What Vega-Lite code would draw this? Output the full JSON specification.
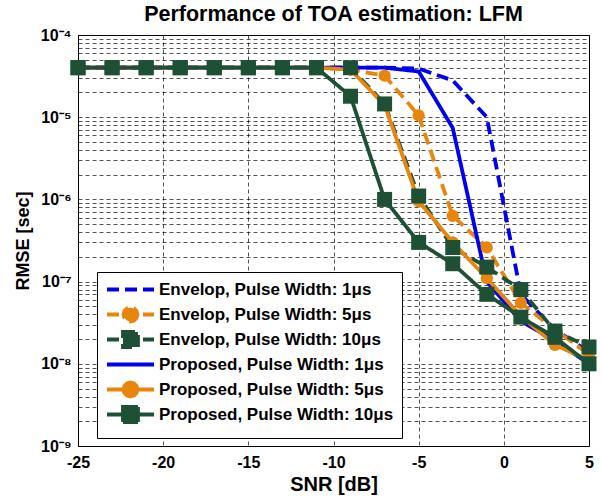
{
  "$schema": "https://vega.github.io/schema/vega-lite/v6.json",
  "width": 511,
  "height": 411,
  "autosize": {"type": "none"},
  "padding": {"left": 78, "top": 35, "right": 13, "bottom": 52},
  "background": "white",
  "title": {"text": "Performance of TOA estimation: LFM", "fontSize": 21.5, "fontWeight": "bold", "font": "Liberation Sans", "color": "black", "offset": 2, "anchor": "middle"},
  "config": {
    "font": "Liberation Sans",
    "view": {"stroke": "black", "strokeWidth": 1},
    "axis": {"labelFont": "Liberation Sans", "labelFontWeight": "bold", "labelFontSize": 16, "labelColor": "black", "titleFont": "Liberation Sans", "titleFontWeight": "bold", "titleFontSize": 19, "titleColor": "black", "domainColor": "black", "gridColor": "#000000", "gridDash": [4, 3], "gridWidth": 0.8, "gridOpacity": 0.85, "ticks": false, "labelFlush": false, "labelOverlap": false}
  },
  "data": {"values": [
    {"series": "Envelop, Pulse Width: 1μs", "snr": -25, "rmse": 4e-5},
    {"series": "Envelop, Pulse Width: 1μs", "snr": -23, "rmse": 4e-5},
    {"series": "Envelop, Pulse Width: 1μs", "snr": -21, "rmse": 4e-5},
    {"series": "Envelop, Pulse Width: 1μs", "snr": -19, "rmse": 4e-5},
    {"series": "Envelop, Pulse Width: 1μs", "snr": -17, "rmse": 4e-5},
    {"series": "Envelop, Pulse Width: 1μs", "snr": -15, "rmse": 4e-5},
    {"series": "Envelop, Pulse Width: 1μs", "snr": -13, "rmse": 4e-5},
    {"series": "Envelop, Pulse Width: 1μs", "snr": -11, "rmse": 4e-5},
    {"series": "Envelop, Pulse Width: 1μs", "snr": -9, "rmse": 4e-5},
    {"series": "Envelop, Pulse Width: 1μs", "snr": -7, "rmse": 4e-5},
    {"series": "Envelop, Pulse Width: 1μs", "snr": -5, "rmse": 3.9e-5},
    {"series": "Envelop, Pulse Width: 1μs", "snr": -3, "rmse": 2.8e-5},
    {"series": "Envelop, Pulse Width: 1μs", "snr": -1, "rmse": 1e-5},
    {"series": "Envelop, Pulse Width: 1μs", "snr": 1, "rmse": 7e-8},
    {"series": "Envelop, Pulse Width: 1μs", "snr": 3, "rmse": 2.6e-8},
    {"series": "Envelop, Pulse Width: 1μs", "snr": 5, "rmse": 1.4e-8},
    {"series": "Envelop, Pulse Width: 5μs", "snr": -25, "rmse": 4e-5},
    {"series": "Envelop, Pulse Width: 5μs", "snr": -23, "rmse": 4e-5},
    {"series": "Envelop, Pulse Width: 5μs", "snr": -21, "rmse": 4e-5},
    {"series": "Envelop, Pulse Width: 5μs", "snr": -19, "rmse": 4e-5},
    {"series": "Envelop, Pulse Width: 5μs", "snr": -17, "rmse": 4e-5},
    {"series": "Envelop, Pulse Width: 5μs", "snr": -15, "rmse": 4e-5},
    {"series": "Envelop, Pulse Width: 5μs", "snr": -13, "rmse": 4e-5},
    {"series": "Envelop, Pulse Width: 5μs", "snr": -11, "rmse": 4e-5},
    {"series": "Envelop, Pulse Width: 5μs", "snr": -9, "rmse": 3.8e-5},
    {"series": "Envelop, Pulse Width: 5μs", "snr": -7, "rmse": 3.2e-5},
    {"series": "Envelop, Pulse Width: 5μs", "snr": -5, "rmse": 1.05e-5},
    {"series": "Envelop, Pulse Width: 5μs", "snr": -3, "rmse": 6.3e-7},
    {"series": "Envelop, Pulse Width: 5μs", "snr": -1, "rmse": 2.6e-7},
    {"series": "Envelop, Pulse Width: 5μs", "snr": 1, "rmse": 5.5e-8},
    {"series": "Envelop, Pulse Width: 5μs", "snr": 3, "rmse": 2.6e-8},
    {"series": "Envelop, Pulse Width: 5μs", "snr": 5, "rmse": 1.3e-8},
    {"series": "Envelop, Pulse Width: 10μs", "snr": -25, "rmse": 4e-5},
    {"series": "Envelop, Pulse Width: 10μs", "snr": -23, "rmse": 4e-5},
    {"series": "Envelop, Pulse Width: 10μs", "snr": -21, "rmse": 4e-5},
    {"series": "Envelop, Pulse Width: 10μs", "snr": -19, "rmse": 4e-5},
    {"series": "Envelop, Pulse Width: 10μs", "snr": -17, "rmse": 4e-5},
    {"series": "Envelop, Pulse Width: 10μs", "snr": -15, "rmse": 4e-5},
    {"series": "Envelop, Pulse Width: 10μs", "snr": -13, "rmse": 4e-5},
    {"series": "Envelop, Pulse Width: 10μs", "snr": -11, "rmse": 4e-5},
    {"series": "Envelop, Pulse Width: 10μs", "snr": -9, "rmse": 4e-5},
    {"series": "Envelop, Pulse Width: 10μs", "snr": -7, "rmse": 1.45e-5},
    {"series": "Envelop, Pulse Width: 10μs", "snr": -5, "rmse": 1.1e-6},
    {"series": "Envelop, Pulse Width: 10μs", "snr": -3, "rmse": 2.6e-7},
    {"series": "Envelop, Pulse Width: 10μs", "snr": -1, "rmse": 1.5e-7},
    {"series": "Envelop, Pulse Width: 10μs", "snr": 1, "rmse": 8e-8},
    {"series": "Envelop, Pulse Width: 10μs", "snr": 3, "rmse": 2.5e-8},
    {"series": "Envelop, Pulse Width: 10μs", "snr": 5, "rmse": 1.6e-8},
    {"series": "Proposed, Pulse Width: 1μs", "snr": -25, "rmse": 4e-5},
    {"series": "Proposed, Pulse Width: 1μs", "snr": -23, "rmse": 4e-5},
    {"series": "Proposed, Pulse Width: 1μs", "snr": -21, "rmse": 4e-5},
    {"series": "Proposed, Pulse Width: 1μs", "snr": -19, "rmse": 4e-5},
    {"series": "Proposed, Pulse Width: 1μs", "snr": -17, "rmse": 4e-5},
    {"series": "Proposed, Pulse Width: 1μs", "snr": -15, "rmse": 4e-5},
    {"series": "Proposed, Pulse Width: 1μs", "snr": -13, "rmse": 4e-5},
    {"series": "Proposed, Pulse Width: 1μs", "snr": -11, "rmse": 4e-5},
    {"series": "Proposed, Pulse Width: 1μs", "snr": -9, "rmse": 4e-5},
    {"series": "Proposed, Pulse Width: 1μs", "snr": -7, "rmse": 4e-5},
    {"series": "Proposed, Pulse Width: 1μs", "snr": -5, "rmse": 3.6e-5},
    {"series": "Proposed, Pulse Width: 1μs", "snr": -3, "rmse": 7.4e-6},
    {"series": "Proposed, Pulse Width: 1μs", "snr": -1, "rmse": 1e-7},
    {"series": "Proposed, Pulse Width: 1μs", "snr": 1, "rmse": 3.3e-8},
    {"series": "Proposed, Pulse Width: 1μs", "snr": 3, "rmse": 1.9e-8},
    {"series": "Proposed, Pulse Width: 1μs", "snr": 5, "rmse": 1e-8},
    {"series": "Proposed, Pulse Width: 5μs", "snr": -25, "rmse": 4e-5},
    {"series": "Proposed, Pulse Width: 5μs", "snr": -23, "rmse": 4e-5},
    {"series": "Proposed, Pulse Width: 5μs", "snr": -21, "rmse": 4e-5},
    {"series": "Proposed, Pulse Width: 5μs", "snr": -19, "rmse": 4e-5},
    {"series": "Proposed, Pulse Width: 5μs", "snr": -17, "rmse": 4e-5},
    {"series": "Proposed, Pulse Width: 5μs", "snr": -15, "rmse": 4e-5},
    {"series": "Proposed, Pulse Width: 5μs", "snr": -13, "rmse": 4e-5},
    {"series": "Proposed, Pulse Width: 5μs", "snr": -11, "rmse": 4e-5},
    {"series": "Proposed, Pulse Width: 5μs", "snr": -9, "rmse": 3.8e-5},
    {"series": "Proposed, Pulse Width: 5μs", "snr": -7, "rmse": 1.4e-5},
    {"series": "Proposed, Pulse Width: 5μs", "snr": -5, "rmse": 9.5e-7},
    {"series": "Proposed, Pulse Width: 5μs", "snr": -3, "rmse": 3e-7},
    {"series": "Proposed, Pulse Width: 5μs", "snr": -1, "rmse": 1.1e-7},
    {"series": "Proposed, Pulse Width: 5μs", "snr": 1, "rmse": 3.8e-8},
    {"series": "Proposed, Pulse Width: 5μs", "snr": 3, "rmse": 1.7e-8},
    {"series": "Proposed, Pulse Width: 5μs", "snr": 5, "rmse": 1.1e-8},
    {"series": "Proposed, Pulse Width: 10μs", "snr": -25, "rmse": 4e-5},
    {"series": "Proposed, Pulse Width: 10μs", "snr": -23, "rmse": 4e-5},
    {"series": "Proposed, Pulse Width: 10μs", "snr": -21, "rmse": 4e-5},
    {"series": "Proposed, Pulse Width: 10μs", "snr": -19, "rmse": 4e-5},
    {"series": "Proposed, Pulse Width: 10μs", "snr": -17, "rmse": 4e-5},
    {"series": "Proposed, Pulse Width: 10μs", "snr": -15, "rmse": 4e-5},
    {"series": "Proposed, Pulse Width: 10μs", "snr": -13, "rmse": 4e-5},
    {"series": "Proposed, Pulse Width: 10μs", "snr": -11, "rmse": 4e-5},
    {"series": "Proposed, Pulse Width: 10μs", "snr": -9, "rmse": 1.8e-5},
    {"series": "Proposed, Pulse Width: 10μs", "snr": -7, "rmse": 1e-6},
    {"series": "Proposed, Pulse Width: 10μs", "snr": -5, "rmse": 3e-7},
    {"series": "Proposed, Pulse Width: 10μs", "snr": -3, "rmse": 1.65e-7},
    {"series": "Proposed, Pulse Width: 10μs", "snr": -1, "rmse": 7e-8},
    {"series": "Proposed, Pulse Width: 10μs", "snr": 1, "rmse": 3.7e-8},
    {"series": "Proposed, Pulse Width: 10μs", "snr": 3, "rmse": 2.1e-8},
    {"series": "Proposed, Pulse Width: 10μs", "snr": 5, "rmse": 1e-8}
  ]},
  "layer": [
    {
      "mark": {"type": "line", "strokeWidth": 3.8},
      "encoding": {
        "x": {"field": "snr", "type": "quantitative", "scale": {"domain": [-25, 5], "nice": false, "zero": false}, "axis": {"values": [-25, -20, -15, -10, -5, 0, 5], "labelExpr": "datum.value < 0 ? '-' + abs(datum.value) : '' + datum.value", "title": "SNR [dB]", "titleFontSize": 20, "labelPadding": 8, "titlePadding": 4}},
        "y": {"field": "rmse", "type": "quantitative", "scale": {"type": "log", "domain": [1e-9, 1e-4], "nice": false}, "axis": {"values": [1e-9, 2e-9, 3e-9, 4e-9, 5e-9, 6e-9, 7e-9, 8e-9, 9e-9, 1e-8, 2e-8, 3e-8, 4e-8, 5e-8, 6e-8, 7e-8, 8e-8, 9e-8, 1e-7, 2e-7, 3e-7, 4e-7, 5e-7, 6e-7, 7e-7, 8e-7, 9e-7, 1e-6, 2e-6, 3e-6, 4e-6, 5e-6, 6e-6, 7e-6, 8e-6, 9e-6, 1e-5, 2e-5, 3e-5, 4e-5, 5e-5, 6e-5, 7e-5, 8e-5, 9e-5, 1e-4], "labelExpr": "abs(log(datum.value)/LN10 - round(log(datum.value)/LN10)) < 0.001 ? '10⁻' + ['⁰','¹','²','³','⁴','⁵','⁶','⁷','⁸','⁹'][-round(log(datum.value)/LN10)] : ''", "title": "RMSE [sec]", "titleFontSize": 18, "labelPadding": 7, "titlePadding": 8}},
        "color": {"field": "series", "type": "nominal", "scale": {"domain": ["Envelop, Pulse Width: 1μs", "Envelop, Pulse Width: 5μs", "Envelop, Pulse Width: 10μs", "Proposed, Pulse Width: 1μs", "Proposed, Pulse Width: 5μs", "Proposed, Pulse Width: 10μs"], "range": ["#0000F0", "#E8850C", "#1D5035", "#0000F0", "#E8850C", "#1D5035"]},
          "legend": {"title": null, "orient": "none", "legendX": 19, "legendY": 237, "symbolSize": 225, "symbolStrokeWidth": 3.8, "labelFontSize": 17, "labelFontWeight": "bold", "labelFont": "Liberation Sans", "labelColor": "black", "labelLimit": 320, "padding": 8, "rowPadding": -6, "gridAlign": "all", "labelOffset": 35, "strokeColor": "black", "fillColor": "white", "symbolType": "stroke",
            "encode": {"symbols": {"update": {
              "shape": {"signal": "indexof(datum.value,'10μs')>=0 ? 'M-1,0H5.27M1.13,-1H3.13V1H1.13Z' : indexof(datum.value,'5μs')>=0 ? 'M-1,0H5.27M3.06,0L2.94,0.47L2.6,0.81L2.13,0.93L1.67,0.81L1.32,0.47L1.2,0L1.32,-0.47L1.67,-0.81L2.13,-0.93L2.6,-0.81L2.94,-0.47Z' : 'M-1,0H5.27'"},
              "fill": {"signal": "indexof(datum.value,'10μs')>=0 ? '#1D5035' : indexof(datum.value,'5μs')>=0 ? '#E8850C' : 'transparent'"}
            }}}}},
        "strokeDash": {"field": "series", "type": "nominal", "scale": {"domain": ["Envelop, Pulse Width: 1μs", "Envelop, Pulse Width: 5μs", "Envelop, Pulse Width: 10μs", "Proposed, Pulse Width: 1μs", "Proposed, Pulse Width: 5μs", "Proposed, Pulse Width: 10μs"], "range": [[12, 6], [12, 6], [12, 6], [1, 0], [1, 0], [1, 0]]},
          "legend": {"title": null, "orient": "none", "legendX": 19, "legendY": 237, "symbolSize": 225, "symbolStrokeWidth": 3.8, "labelFontSize": 17, "labelFontWeight": "bold", "labelFont": "Liberation Sans", "labelColor": "black", "labelLimit": 320, "padding": 8, "rowPadding": -6, "gridAlign": "all", "labelOffset": 35, "strokeColor": "black", "fillColor": "white", "symbolType": "stroke"}}
      }
    },
    {
      "transform": [{"filter": "indexof(datum.series,'5μs')>=0"}],
      "mark": {"type": "point", "shape": "circle", "filled": true, "size": 150, "opacity": 1},
      "encoding": {
        "x": {"field": "snr", "type": "quantitative"},
        "y": {"field": "rmse", "type": "quantitative"},
        "color": {"field": "series", "type": "nominal"}
      }
    },
    {
      "transform": [{"filter": "indexof(datum.series,'10μs')>=0"}],
      "mark": {"type": "point", "shape": "square", "filled": true, "size": 225, "opacity": 1},
      "encoding": {
        "x": {"field": "snr", "type": "quantitative"},
        "y": {"field": "rmse", "type": "quantitative"},
        "color": {"field": "series", "type": "nominal"}
      }
    }
  ]
}
